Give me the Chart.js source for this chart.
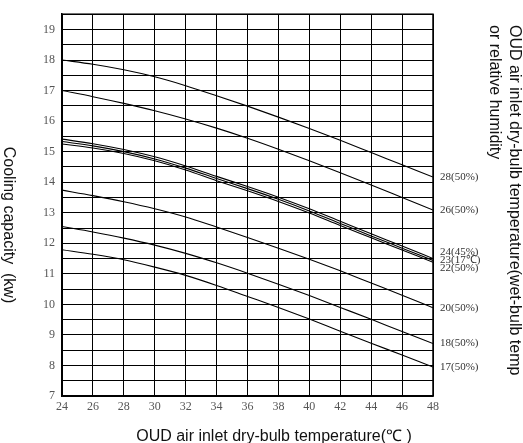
<!DOCTYPE html>
<html>
<head>
<meta charset="utf-8">
<script src="https://cdn.jsdelivr.net/npm/chart.js@4/dist/chart.umd.min.js"></script>
<style>
  html, body { margin: 0; padding: 0; background: #fff; }
  #wrap { width: 523px; height: 443px; position: relative; }
</style>
</head>
<body>
<div id="wrap"><canvas id="c" width="523" height="443"></canvas></div>
<script>
// ---- data ----
const xTemps = [24, 26, 28, 30, 32, 34, 36, 38, 40, 42, 44, 46, 48];
const seriesLabels = ['28(50%)', '26(50%)', '24(45%)', '23(17℃)', '22(50%)', '20(50%)', '18(50%)', '17(50%)'];
const cap28 = [18.00, 17.86, 17.68, 17.45, 17.16, 16.83, 16.49, 16.13, 15.76, 15.37, 14.97, 14.57, 14.17];
const cap26 = [17.00, 16.80, 16.58, 16.34, 16.07, 15.77, 15.44, 15.08, 14.70, 14.31, 13.91, 13.50, 13.09];
const cap24 = [15.41, 15.26, 15.07, 14.83, 14.53, 14.19, 13.86, 13.51, 13.13, 12.72, 12.31, 11.91, 11.50];
const cap23 = [15.33, 15.19, 15.00, 14.76, 14.46, 14.12, 13.79, 13.44, 13.06, 12.65, 12.24, 11.84, 11.44];
const cap22 = [15.25, 15.12, 14.94, 14.70, 14.40, 14.05, 13.72, 13.37, 12.99, 12.58, 12.18, 11.78, 11.38];
const cap20 = [13.74, 13.56, 13.36, 13.13, 12.86, 12.53, 12.19, 11.84, 11.48, 11.10, 10.70, 10.30, 9.89];
const cap18 = [12.55, 12.37, 12.17, 11.94, 11.67, 11.36, 11.02, 10.66, 10.29, 9.90, 9.51, 9.11, 8.72];
const cap17 = [11.79, 11.64, 11.46, 11.22, 10.95, 10.62, 10.26, 9.90, 9.52, 9.12, 8.73, 8.34, 7.95];
const allSeries = [cap28, cap26, cap24, cap23, cap22, cap20, cap18, cap17];
const xTitle = 'OUD air inlet dry-bulb temperature(℃ )';
const yTitle = 'Cooling capacity  (kw)';
const rightTitle1 = 'OUD air inlet dry-bulb temperature(wet-bulb temp';
const rightTitle2 = 'or relative humidity';

// ---- plugins ----
const endLabels = {
  id: 'endLabels',
  afterDatasetsDraw(chart) {
    const ctx = chart.ctx;
    const area = chart.chartArea;
    const items = chart.data.datasets.map((ds, i) => {
      const meta = chart.getDatasetMeta(i);
      const pt = meta.data[meta.data.length - 1];
      return { text: ds.label, y: pt.y };
    });
    items.sort((a, b) => a.y - b.y);
    const gap = 8;
    let groups = items.map(it => ({ members: [it], center: it.y }));
    let merged = true;
    while (merged) {
      merged = false;
      for (let g = 0; g < groups.length - 1; g++) {
        const a = groups[g], b = groups[g + 1];
        const aBottom = a.center + (a.members.length - 1) * gap / 2;
        const bTop = b.center - (b.members.length - 1) * gap / 2;
        if (bTop - aBottom < gap) {
          const members = a.members.concat(b.members);
          const center = members.reduce((s, m) => s + m.y, 0) / members.length;
          groups.splice(g, 2, { members, center });
          merged = true;
          break;
        }
      }
    }
    ctx.save();
    ctx.font = '11px "Liberation Serif", serif';
    ctx.fillStyle = '#333';
    ctx.textAlign = 'left';
    ctx.textBaseline = 'middle';
    groups.forEach(g => {
      const n = g.members.length;
      g.members.forEach((m, k) => {
        const y = g.center + (k - (n - 1) / 2) * gap;
        ctx.fillText(m.text, area.right + 7, y);
      });
    });
    ctx.restore();
  }
};

const frame = {
  id: 'frame',
  afterDatasetsDraw(chart) {
    const ctx = chart.ctx;
    const a = chart.chartArea;
    ctx.save();
    ctx.strokeStyle = '#000';
    ctx.lineWidth = 1.5;
    ctx.strokeRect(a.left, a.top, a.right - a.left, a.bottom - a.top);
    ctx.restore();
  }
};

const titles = {
  id: 'titles',
  afterDraw(chart) {
    const ctx = chart.ctx;
    ctx.save();
    ctx.fillStyle = '#111';
    ctx.font = '16px "Liberation Sans", Arial, sans-serif';
    ctx.textBaseline = 'middle';
    ctx.textAlign = 'center';
    ctx.fillText(xTitle, 274, 437);
    ctx.save();
    ctx.translate(8, 225);
    ctx.rotate(Math.PI / 2);
    ctx.textAlign = 'center';
    ctx.fillText(yTitle, 0, 0);
    ctx.restore();
    ctx.save();
    ctx.translate(514, 25);
    ctx.rotate(Math.PI / 2);
    ctx.textAlign = 'left';
    ctx.fillText(rightTitle1, 0, 0);
    ctx.fillText(rightTitle2, 0, 20);
    ctx.restore();
    ctx.restore();
  }
};

const datasets = allSeries.map((vals, i) => ({
  label: seriesLabels[i],
  data: xTemps.map((x, j) => ({ x: x, y: vals[j] })),
  borderColor: '#000',
  borderWidth: 1.1,
  pointRadius: 0,
  fill: false,
  cubicInterpolationMode: 'monotone'
}));

new Chart(document.getElementById('c'), {
  type: 'line',
  data: { datasets },
  options: {
    responsive: false,
    animation: false,
    layout: { padding: { left: 0, right: 90, top: 11, bottom: 0 } },
    plugins: { legend: { display: false }, tooltip: { enabled: false }, title: { display: false } },
    scales: {
      x: {
        type: 'linear',
        min: 24, max: 48,
        afterFit(scale) { scale.height = 47; },
        ticks: {
          stepSize: 2,
          padding: 4,
          autoSkip: false,
          color: '#555',
          font: { family: '"Liberation Serif", serif', size: 12 },
          maxRotation: 0
        },
        grid: { color: '#000', lineWidth: 1, drawTicks: false },
        border: { color: '#000', width: 1.5 }
      },
      y: {
        min: 7, max: 19.5,
        afterFit(scale) { scale.width = 62; },
        ticks: {
          stepSize: 0.5,
          padding: 7,
          autoSkip: false,
          color: '#555',
          font: { family: '"Liberation Serif", serif', size: 12 },
          callback: v => (Number.isInteger(v) ? String(v) : '')
        },
        grid: { color: '#000', lineWidth: 1, drawTicks: false },
        border: { color: '#000', width: 1.5 }
      }
    }
  },
  plugins: [frame, endLabels, titles]
});
</script>
</body>
</html>
